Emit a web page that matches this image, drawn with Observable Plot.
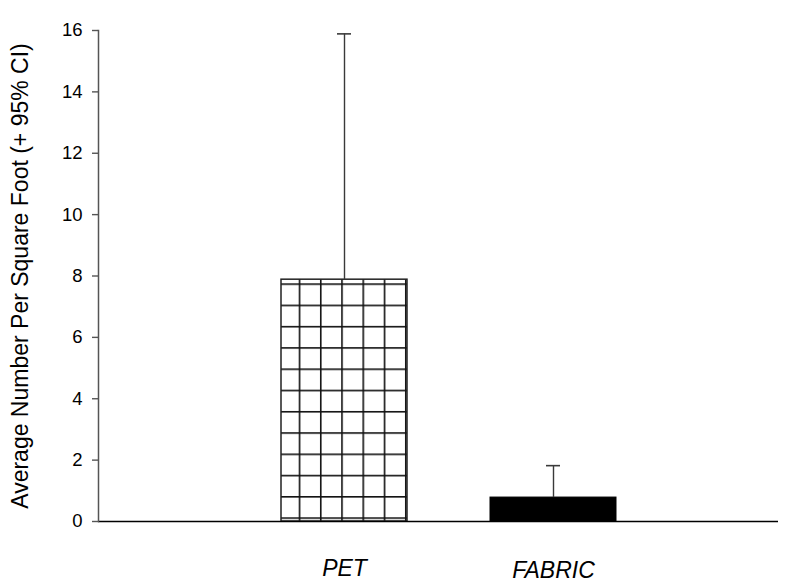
<!DOCTYPE html>
<html><head><meta charset="utf-8">
<script src="https://cdn.jsdelivr.net/npm/d3@7"></script>
<script src="https://cdn.jsdelivr.net/npm/@observablehq/plot@0.6"></script>
<style>
body{margin:0;background:#fff;}
</style></head><body><div id="chart"></div>
<script>
const categories = ["PET", "FABRIC"];
const means = [7.88, 0.78];
const upper = [15.89, 1.82];
const yTicks = [0, 2, 4, 6, 8, 10, 12, 14, 16];
const yLabel = "Average Number Per Square Foot (+ 95% CI)";
const data = categories.map((c, i) => ({cat: c, mean: means[i], upper: upper[i]}));

const chart = Plot.plot({
  width: 789, height: 583,
  marginLeft: 98, marginRight: 11, marginTop: 30, marginBottom: 62,
  style: {fontFamily: "'Liberation Sans', Arial, sans-serif", background: "#fff", color: "#000"},
  x: {domain: categories, paddingInner: 0.3952, paddingOuter: 0.8167, align: 0.5306, label: null},
  y: {domain: [0, 16], ticks: yTicks, label: null},
  marks: [
    Plot.barY(data.filter(d => d.cat === "PET"), {x: "cat", y: "mean", fill: "url(#grid)", stroke: "#222", strokeWidth: 1.5}),
    Plot.barY(data.filter(d => d.cat !== "PET"), {x: "cat", y: "mean", fill: "#000", stroke: "#000", strokeWidth: 1}),
    Plot.ruleX(data, {x: "cat", y1: "mean", y2: "upper", stroke: "#3a3a3a", strokeWidth: 1.4}),
    Plot.tickY(data, {x: "cat", y: "upper", insetLeft: 56, insetRight: 56, stroke: "#3a3a3a", strokeWidth: 1.6}),
    Plot.ruleY([0], {stroke: "#000", strokeWidth: 1.5}),
    Plot.axisY({ticks: yTicks, tickSize: 6, tickPadding: 10, fontSize: 18.5, stroke: "#555", strokeWidth: 1.4, label: null}),
    Plot.frame({anchor: "left", stroke: "#555", strokeWidth: 1.5}),
    Plot.axisX([categories[0]], {tickSize: 0, tickPadding: 38, fontSize: 23, fontStyle: "italic", label: null}),
    Plot.axisX([categories[1]], {tickSize: 0, tickPadding: 40, fontSize: 23, fontStyle: "italic", label: null}),
    Plot.text([yLabel], {text: d => d, frameAnchor: "left", textAnchor: "middle", rotate: -90, dx: -78, fontSize: 23, fill: "#000"})
  ]
});

// grid pattern aligned to the PET bar
const xs = chart.scale("x");
const ys = chart.scale("y");
const px = xs.apply("PET") + 17.7;
const py = ys.apply(0) - 3.7;
const svg = d3.select(chart);
const defs = svg.insert("defs", ":first-child");
const pat = defs.append("pattern").attr("id", "grid").attr("patternUnits", "userSpaceOnUse")
  .attr("x", px).attr("y", py).attr("width", 21.25).attr("height", 21.27);
pat.append("rect").attr("width", 21.25).attr("height", 21.27).attr("fill", "#fff");
pat.append("line").attr("x1", 0.75).attr("x2", 0.75).attr("y1", 0).attr("y2", 21.27).attr("stroke", "#111").attr("stroke-width", 1.7);
pat.append("line").attr("x1", 0).attr("x2", 21.25).attr("y1", 0.75).attr("y2", 0.75).attr("stroke", "#111").attr("stroke-width", 1.7);

document.getElementById("chart").appendChild(chart);
</script>
</body></html>
